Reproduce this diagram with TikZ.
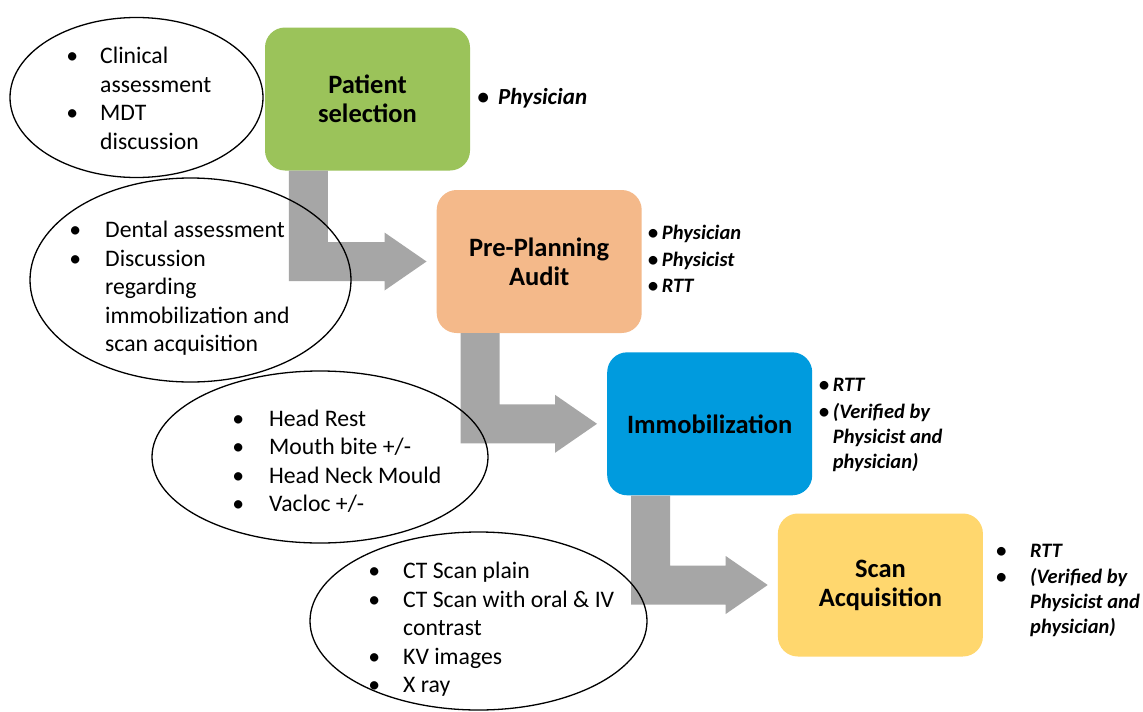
\documentclass[tikz,border=0pt]{standalone}
\usepackage{fontspec}
\setmainfont{Carlito}
\usetikzlibrary{shapes.geometric,calc}
\definecolor{cgreen}{RGB}{155,195,90}
\definecolor{corange}{RGB}{244,185,138}
\definecolor{cblue}{RGB}{0,155,222}
\definecolor{cyellow}{RGB}{255,215,110}
\definecolor{cgray}{RGB}{166,166,166}
\newcommand\bl[1]{\llap{\makebox[0pt][c]{\textbullet}\hspace*{#1pt}}}
\newcommand\ind{\hspace*{0pt}}
\begin{document}
\begin{tikzpicture}[x=1pt,y=-1pt,
  stepbox/.style={rounded corners=20pt, minimum width=205pt, minimum height=143pt, inner sep=0pt, align=center,
    font=\fontsize{26.5}{29}\selectfont\bfseries},
  bubble/.style={ellipse, draw=black, line width=1.3pt, inner sep=0pt},
  etext/.style={anchor=base west, inner sep=0pt, font=\fontsize{23.7}{28.6}\selectfont},
  stext/.style={anchor=base west, inner sep=0pt, font=\fontsize{20.5}{25}\selectfont\bfseries\itshape},
  bigstext/.style={anchor=base west, inner sep=0pt, font=\fontsize{23}{28}\selectfont\bfseries\itshape},
  blockarrow/.style={fill=cgray}
]
\useasboundingbox (0,0) rectangle (1143,712);
\fill[white] (0,0) rectangle (1143,712);

% step boxes
\node[stepbox, fill=cgreen] (b1) at (367.5,99) {Patient\\selection};
\node[stepbox, fill=corange] (b2) at (539.2,261.5) {Pre-Planning\\Audit};
\node[stepbox, fill=cblue] (b3) at (709.7,423.8) {Immobilization};
\node[stepbox, fill=cyellow] (b4) at (880.4,585) {Scan\\Acquisition};

% block arrows
\foreach \a/\b in {b1/b2, b2/b3, b3/b4}{
  \path let \p1=(\a.south west), \p2=(\b.west) in
    [blockarrow] (\x1+24pt,\y1) -- (\x1+63pt,\y1) -- (\x1+63pt,\y2+19.5pt)
    -- (\x2-52pt,\y2+19.5pt) -- (\x2-52pt,\y2+29pt) -- (\x2-10pt,\y2)
    -- (\x2-52pt,\y2-29pt) -- (\x2-52pt,\y2-19.5pt) -- (\x1+24pt,\y2-19.5pt) -- cycle;
}

% ellipses
\node[bubble, minimum width=253pt, minimum height=160pt] (e1) at (136.5,97.5) {};
\node[bubble, minimum width=321pt, minimum height=204pt] (e2) at (190.5,280) {};
\node[bubble, minimum width=336pt, minimum height=172pt] (e3) at (320,457) {};
\node[bubble, minimum width=337pt, minimum height=178pt] (e4) at (478.5,621) {};

% ellipse texts
\node[etext] (t1) at (100,63.5) {\begin{tabular}[t]{@{}l@{}}\bl{28}Clinical\\assessment\\\bl{28}MDT\\discussion\end{tabular}};
\node[etext] (t2) at (105,237.5) {\begin{tabular}[t]{@{}l@{}}\bl{30}Dental assessment\\\bl{30}Discussion\\regarding\\immobilization and\\scan acquisition\end{tabular}};
\node[etext] (t3) at (269,426) {\begin{tabular}[t]{@{}l@{}}\bl{31}Head Rest\\\bl{31}Mouth bite +/-\\\bl{31}Head Neck Mould\\\bl{31}Vacloc +/-\end{tabular}};
\node[etext] (t4) at (403,578.5) {\begin{tabular}[t]{@{}l@{}}\bl{29}CT Scan plain\\\bl{29}CT Scan with oral \& IV\\contrast\\\bl{29}KV images\\\bl{29}X ray\end{tabular}};

% side texts
\node[bigstext] (s1) at (498,104) {\bl{15}Physician};
\node[stext] (s2) at (661.7,239.5) {\begin{tabular}[t]{@{}l@{}}\bl{9}Physician\\[1.5pt]\bl{9}Physicist\\[1.5pt]\bl{9}RTT\end{tabular}};
\node[stext] (s3) at (832.7,391) {\begin{tabular}[t]{@{}l@{}}\bl{9}RTT\\[2pt]\bl{9}(Verified by\\Physicist and\\physician)\end{tabular}};
\node[stext] (s4) at (1030,557) {\begin{tabular}[t]{@{}l@{}}\bl{29}RTT\\[1.5pt]\bl{29}(Verified by\\Physicist and\\physician)\end{tabular}};
\end{tikzpicture}
\end{document}
